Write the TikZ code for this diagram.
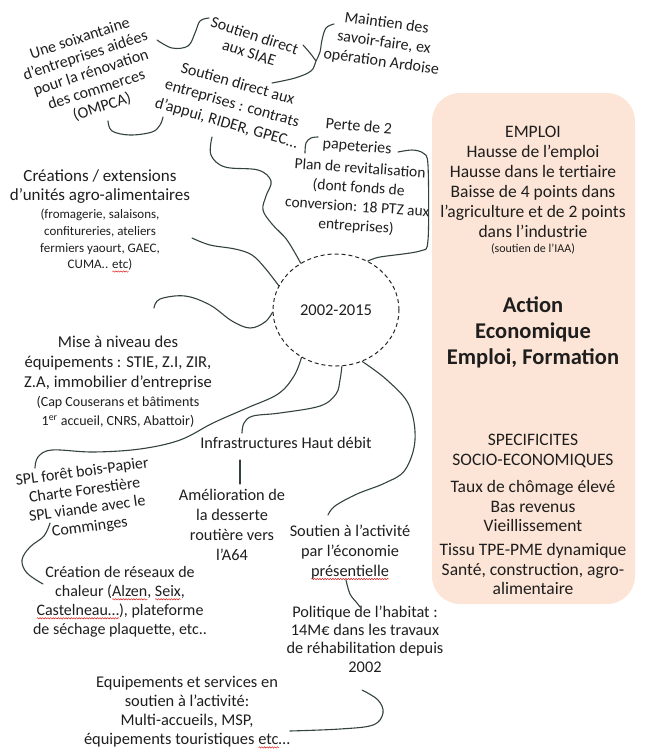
\documentclass[tikz,border=0pt]{standalone}
\usepackage{fontspec}
\setmainfont{Carlito}
\usetikzlibrary{shapes.geometric,decorations.pathmorphing}
\definecolor{textc}{HTML}{1E1E1E}
\definecolor{linec}{HTML}{33433A}
\definecolor{boxc}{HTML}{FCE5D6}
\newsavebox\wavebox
\newlength\wavelen
\newcommand\redwave[1]{\sbox\wavebox{#1}\setlength\wavelen{\wd\wavebox}\rlap{\raisebox{0pt}[0pt][0pt]{\tikz[baseline=0pt,x=1pt,y=1pt]\draw[red!85!black,line width=0.4pt,decorate,decoration={snake,amplitude=0.7pt,segment length=2.6pt}] (0,-2.6) -- (\wavelen,-2.6);}}#1}
\newcommand\fs[2]{\fontsize{#1}{#2}\selectfont}
\begin{document}
\begin{tikzpicture}[x=1pt,y=-1pt,
  txt/.style={align=center,inner sep=0pt,text=textc,font=\fs{16.5}{19.5}},
  smalltxt/.style={align=center,inner sep=0pt,text=textc,font=\fs{13}{16.7}},
  btxt/.style={align=center,inner sep=0pt,text=textc,font=\fs{17.5}{20}},
  conn/.style={draw=linec,line width=1.1pt,line cap=round,line join=round},
  panel/.style={fill=boxc,draw=none,rounded corners=28pt,minimum width=203pt,minimum height=511pt},
  yearcircle/.style={ellipse,draw=black!85,dash pattern=on 4pt off 3pt,line width=1pt,minimum width=126pt,minimum height=112pt,inner sep=0pt,text=textc,font=\fs{16.5}{19}}
]
\useasboundingbox (0,0) rectangle (645,756);

% right panel
\node[panel] (box) at (533.5,348.5) {};
\node[btxt] (emploi) at (533,182) {EMPLOI\\Hausse de l’emploi\\Hausse dans le tertiaire\\Baisse de 4 points dans\\l’agriculture et de 2 points\\dans l’industrie};
\node[btxt,font=\fs{12}{14}] (iaa) at (533,249) {(soutien de l’IAA)};
\node[btxt,font=\bfseries\fs{22.5}{26}] (action) at (533,332) {Action\\Economique\\Emploi, Formation};
\node[btxt] (spec) at (533,451) {SPECIFICITES\\SOCIO-ECONOMIQUES};
\node[btxt,font=\fs{17.5}{19.5}] (taux) at (533,506) {Taux de chômage élevé\\Bas revenus\\Vieillissement};
\node[btxt,font=\fs{17.5}{19.5}] (tissu) at (533,569) {Tissu TPE-PME dynamique\\Santé, construction, agro-\\alimentaire};

% centre
\node[yearcircle] (yr) at (336,310) {2002-2015};

% texts
\node[txt,font=\fs{16}{18},rotate=18] (soix) at (91,73) {Une soixantaine\\d’entreprises aidées\\pour la rénovation\\des commerces\\(OMPCA)};
\node[txt,font=\fs{16}{18},rotate=-18] (siae) at (252,44) {Soutien direct\\aux SIAE};
\node[txt,font=\fs{16}{20.5},rotate=-16] (entr) at (232,104) {Soutien direct aux\\entreprises : contrats\\d’appui, RIDER, GPEC…};
\node[txt,font=\fs{16}{19.5},rotate=-8] (maint) at (384,43) {Maintien des\\savoir-faire, ex\\opération Ardoise};
\node[txt,font=\fs{16}{20},rotate=-5] (perte) at (358,137) {Perte de 2\\papeteries};
\node[txt,font=\fs{15.5}{19.3},rotate=-4] (plan) at (358,198) {Plan de revitalisation\\(dont fonds de\\conversion: 18 PTZ aux\\entreprises)};

\node[txt,font=\fs{17}{19}] (creat) at (100,187) {Créations / extensions\\d’unités agro-alimentaires};
\node[smalltxt] (creatb) at (100,240) {(fromagerie, salaisons,\\confitureries, ateliers\\fermiers yaourt, GAEC,\\CUMA.. \redwave{etc})};

\node[txt,font=\fs{16.6}{20}] (mise) at (118,363) {Mise à niveau des\\équipements : STIE, Z.I, ZIR,\\Z.A, immobilier d’entreprise};
\node[txt,font=\fs{14}{19}] (miseb) at (118,412) {(Cap Couserans et bâtiments\\1\textsuperscript{er} accueil, CNRS, Abattoir)};

\node[txt,font=\fs{16}{18.5},rotate=8] (spl) at (86,500) {SPL forêt bois-Papier\\Charte Forestière\\SPL viande avec le\\Comminges};
\node[txt,font=\fs{16}{19}] (chal) at (120,602) {Création de réseaux de\\chaleur (\redwave{Alzen}, \redwave{Seix},\\\redwave{Castelneau…}), plateforme\\de séchage plaquette, etc..};

\node[txt,font=\fs{16.3}{19}] (infra) at (286,443) {Infrastructures Haut débit};
\node[txt,font=\fs{16.3}{20}] (amel) at (232,525) {Amélioration de\\la desserte\\routière vers\\l’A64};
\node[txt,font=\fs{16.3}{20}] (sact) at (350,552) {Soutien à l’activité\\par l’économie\\\redwave{présentielle}};
\node[txt,font=\fs{16.3}{18.4}] (poli) at (365,639) {Politique de l’habitat :\\14M€ dans les travaux\\de réhabilitation depuis\\2002};
\node[txt,font=\fs{16.4}{19}] (equi) at (187,712) {Equipements et services en\\soutien à l’activité:\\Multi-accueils, MSP,\\équipements touristiques \redwave{etc}…};

% connector end points
\coordinate (c1a) at (157,40);  \coordinate (c1b) at (209,18);
\coordinate (c2a) at (108,121); \coordinate (c2b) at (163,117);
\coordinate (c3s) at (303,45);  \coordinate (c3m) at (334,24); \coordinate (c3e) at (272,83); \coordinate (c3j) at (316,61);
\coordinate (c4e) at (212,137);
\coordinate (c5e) at (398,152);
\coordinate (c6a) at (305,153); \coordinate (c6b) at (318,137);
\coordinate (c7e) at (192,238);
\coordinate (c8e) at (154,308);
\coordinate (c9e) at (35,468);
\coordinate (c10e) at (242,433);
\coordinate (c11a) at (240,460); \coordinate (c11b) at (240,484);
\coordinate (c12e) at (328,515);
\coordinate (c13a) at (50,523); \coordinate (c13b) at (43,584);
\coordinate (c14a) at (346,580); \coordinate (c14b) at (360,607);
\coordinate (c15a) at (362,690); \coordinate (c15b) at (290,731);

% connectors
\draw[conn] plot[smooth,tension=0.6] coordinates {(c1a) (172,48) (188,46) (195,33) (200,21) (c1b)};
\draw[conn] plot[smooth,tension=0.6] coordinates {(c2a) (112,131) (130,135) (152,132) (160,125) (c2b)};
\draw[conn] plot[smooth,tension=0.6] coordinates {(c3s) (310,53) (c3j)};
\draw[conn] plot[smooth,tension=0.6] coordinates {(c3m) (326,28) (322,40) (320,52) (c3j) (311,71) (295,78) (c3e)};
\draw[conn] plot[smooth,tension=0.6] coordinates {(yr.127) (287,240) (272,224) (263,210) (266,196) (271,181) (258,170) (225,167) (211,155) (c4e)};
\draw[conn] plot[smooth,tension=0.5] coordinates {(yr.57) (380,257) (420,251) (428,240) (428,165) (423,153) (412,150) (c5e)};
\draw[conn] plot[smooth,tension=0.6] coordinates {(c6a) (306,143) (311,138) (c6b)};
\draw[conn] plot[smooth,tension=0.6] coordinates {(c7e) (210,245) (235,249) (252,255) (265,268) (yr.157)};
\draw[conn] plot[smooth,tension=0.6] coordinates {(c8e) (160,299) (185,296) (210,305) (232,321) (250,328) (265,322) (yr.182)};
\draw[conn] plot[smooth,tension=0.6] coordinates {(yr.234) (294,376) (278,394) (247,408) (213,423) (180,440) (140,449) (93,452) (52,450) (38,457) (c9e)};
\draw[conn] plot[smooth,tension=0.6] coordinates {(yr.276) (340,380) (336,394) (320,406) (280,413) (253,416) (244,423) (c10e)};
\draw[conn] (c11a) -- (c11b);
\draw[conn] plot[smooth,tension=0.6] coordinates {(yr.297) (387,380) (409,405) (415,440) (405,470) (385,483) (357,494) (335,506) (c12e)};
\draw[conn] plot[smooth,tension=0.6] coordinates {(c13a) (44,536) (30,547) (22,560) (27,573) (c13b)};
\draw[conn] plot[smooth,tension=0.6] coordinates {(c14a) (350,594) (357,603) (c14b)};
\draw[conn] plot[smooth,tension=0.6] coordinates {(c15a) (378,700) (383,713) (373,725) (340,729) (c15b)};
\end{tikzpicture}
\end{document}
